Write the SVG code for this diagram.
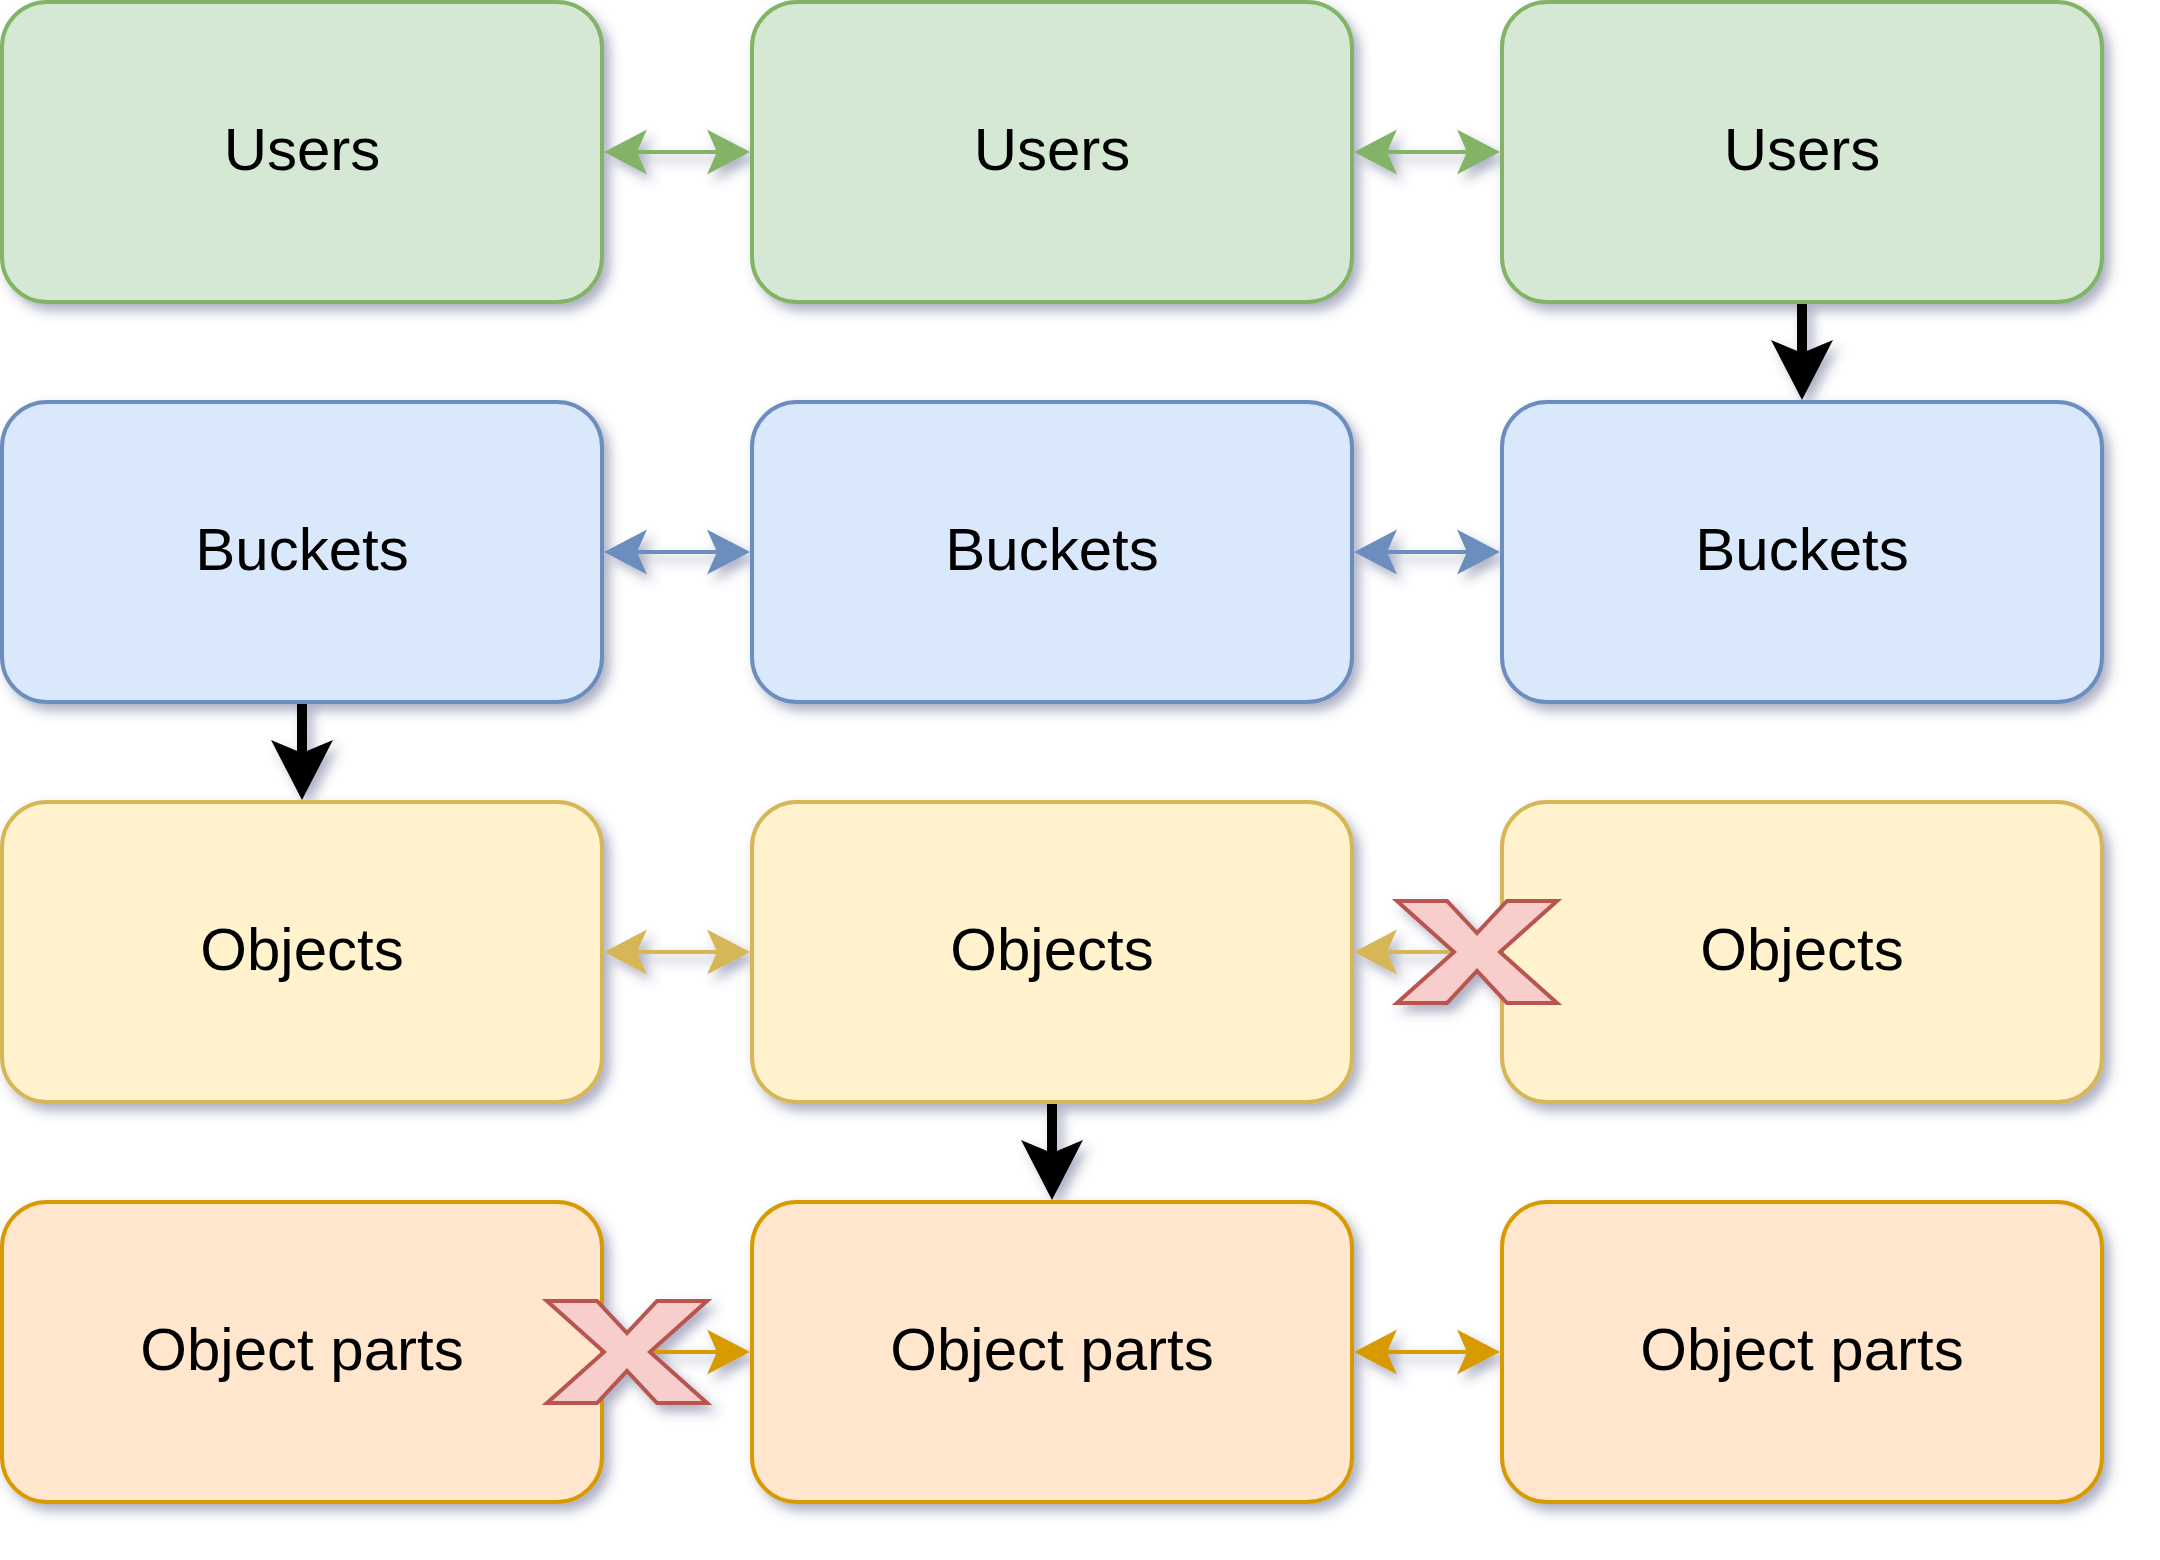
<svg xmlns="http://www.w3.org/2000/svg" width="2160" height="1560" viewBox="0 0 2160 1560">
<style>
.node rect{stroke-width:4}
.node text{font-family:"Liberation Sans",Arial,Helvetica,sans-serif;font-size:60px;fill:#000;text-anchor:middle}
.g rect{fill:#d5e8d4;stroke:#82b366}
.b rect{fill:#dae8fc;stroke:#6c8ebf}
.y rect{fill:#fff2cc;stroke:#d6b656}
.o rect{fill:#ffe6cc;stroke:#d79b00}
.cg line{stroke:#82b366;stroke-width:4}.cg use{fill:#82b366}
.cb line{stroke:#6c8ebf;stroke-width:4}.cb use{fill:#6c8ebf}
.cy line{stroke:#d6b656;stroke-width:4}.cy use{fill:#d6b656}
.co line{stroke:#d79b00;stroke-width:4}.co use{fill:#d79b00}
.ck line{stroke:#000;stroke-width:10}.ck polygon{fill:#000}
.connectors use.x{fill:#f8cecc;stroke:#b85450;stroke-width:4;stroke-linejoin:miter}
</style>
<defs>
<filter id="sh" x="-20%" y="-20%" width="150%" height="150%">
<feGaussianBlur in="SourceAlpha" stdDeviation="6"/>
<feOffset dx="6" dy="7" result="b"/>
<feFlood flood-color="#3D4574" flood-opacity="0.42"/>
<feComposite in2="b" operator="in" result="s"/>
<feMerge><feMergeNode in="s"/><feMergeNode in="SourceGraphic"/></feMerge>
</filter>
<polygon id="hr" points="0,0 -43,-22.5 -33,0 -43,22.5"/>
<polygon id="xs" points="-80,-51 -30,-51 0,-19 30,-51 80,-51 23,0 80,51 30,51 0,19 -30,51 -80,51 -23,0"/>
</defs>
<rect width="2160" height="1560" fill="#fff"/>
<g filter="url(#sh)">
<g id="n-users-1" class="node g"><rect x="2" y="2" width="600" height="300" rx="45"/><text x="302" y="170">Users</text></g>
<g id="n-users-2" class="node g"><rect x="752" y="2" width="600" height="300" rx="45"/><text x="1052" y="170">Users</text></g>
<g id="n-users-3" class="node g"><rect x="1502" y="2" width="600" height="300" rx="45"/><text x="1802" y="170">Users</text></g>
<g id="n-buckets-1" class="node b"><rect x="2" y="402" width="600" height="300" rx="45"/><text x="302" y="570">Buckets</text></g>
<g id="n-buckets-2" class="node b"><rect x="752" y="402" width="600" height="300" rx="45"/><text x="1052" y="570">Buckets</text></g>
<g id="n-buckets-3" class="node b"><rect x="1502" y="402" width="600" height="300" rx="45"/><text x="1802" y="570">Buckets</text></g>
<g id="n-objects-1" class="node y"><rect x="2" y="802" width="600" height="300" rx="45"/><text x="302" y="970">Objects</text></g>
<g id="n-objects-2" class="node y"><rect x="752" y="802" width="600" height="300" rx="45"/><text x="1052" y="970">Objects</text></g>
<g id="n-objects-3" class="node y"><rect x="1502" y="802" width="600" height="300" rx="45"/><text x="1802" y="970">Objects</text></g>
<g id="n-parts-1" class="node o"><rect x="2" y="1202" width="600" height="300" rx="45"/><text x="302" y="1370">Object parts</text></g>
<g id="n-parts-2" class="node o"><rect x="752" y="1202" width="600" height="300" rx="45"/><text x="1052" y="1370">Object parts</text></g>
<g id="n-parts-3" class="node o"><rect x="1502" y="1202" width="600" height="300" rx="45"/><text x="1802" y="1370">Object parts</text></g>
<g id="connectors" class="connectors">
<g class="cg"><line x1="637" y1="152" x2="717" y2="152"/><use href="#hr" transform="translate(750,152)"/><use href="#hr" transform="translate(604,152) scale(-1,1)"/></g>
<g class="cg"><line x1="1387" y1="152" x2="1467" y2="152"/><use href="#hr" transform="translate(1500,152)"/><use href="#hr" transform="translate(1354,152) scale(-1,1)"/></g>
<g class="cb"><line x1="637" y1="552" x2="717" y2="552"/><use href="#hr" transform="translate(750,552)"/><use href="#hr" transform="translate(604,552) scale(-1,1)"/></g>
<g class="cb"><line x1="1387" y1="552" x2="1467" y2="552"/><use href="#hr" transform="translate(1500,552)"/><use href="#hr" transform="translate(1354,552) scale(-1,1)"/></g>
<g class="cy"><line x1="637" y1="952" x2="717" y2="952"/><use href="#hr" transform="translate(750,952)"/><use href="#hr" transform="translate(604,952) scale(-1,1)"/></g>
<g class="cy"><line x1="1387" y1="952" x2="1502" y2="952"/><use href="#hr" transform="translate(1354,952) scale(-1,1)"/></g>
<g class="co"><line x1="602" y1="1352" x2="717" y2="1352"/><use href="#hr" transform="translate(750,1352)"/></g>
<g class="co"><line x1="1387" y1="1352" x2="1467" y2="1352"/><use href="#hr" transform="translate(1500,1352)"/><use href="#hr" transform="translate(1354,1352) scale(-1,1)"/></g>
<g class="ck"><line x1="1802" y1="304" x2="1802" y2="355"/><polygon points="1802,400 1771,340 1802,353 1833,340"/></g>
<g class="ck"><line x1="302" y1="704" x2="302" y2="755"/><polygon points="302,800 271,740 302,753 333,740"/></g>
<g class="ck"><line x1="1052" y1="1104" x2="1052" y2="1155"/><polygon points="1052,1200 1021,1140 1052,1153 1083,1140"/></g>
<use href="#xs" class="x" transform="translate(1477,952)"/>
<use href="#xs" class="x" transform="translate(627,1352)"/>
</g>
</g>
</svg>
